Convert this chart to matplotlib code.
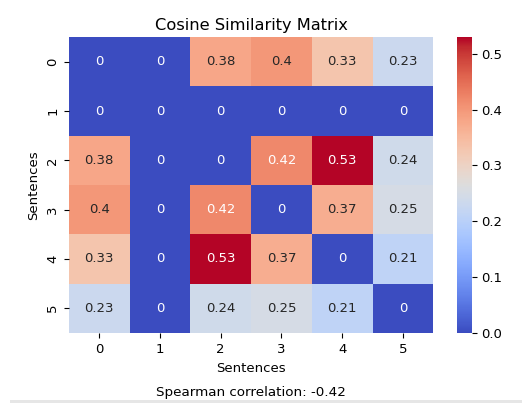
import matplotlib
matplotlib.use("Agg")
import matplotlib.pyplot as plt
import seaborn as sns
import numpy as np
from matplotlib.patches import Rectangle

labels = [0, 1, 2, 3, 4, 5]
row0 = [0, 0, 0.38, 0.40, 0.33, 0.23]
row1 = [0, 0, 0, 0, 0, 0]
row2 = [0.38, 0, 0, 0.42, 0.53, 0.24]
row3 = [0.40, 0, 0.42, 0, 0.37, 0.25]
row4 = [0.33, 0, 0.53, 0.37, 0, 0.21]
row5 = [0.23, 0, 0.24, 0.25, 0.21, 0]
spearman = -0.42

matrix = np.array([row0, row1, row2, row3, row4, row5])

fs = 9.5
plt.rcParams['font.family'] = ['DejaVu Sans']
plt.rcParams['font.size'] = fs

fig = plt.figure(figsize=(5.22, 4.03), dpi=100)
ax = fig.add_axes([0.132, 0.174, 0.698, 0.734])
cax = fig.add_axes([0.875, 0.174, 0.029, 0.734])

sns.heatmap(matrix, annot=True, cmap='coolwarm', ax=ax, cbar_ax=cax,
            xticklabels=labels, yticklabels=labels,
            annot_kws={'fontsize': fs})
ax.set_title('Cosine Similarity Matrix', fontsize=11.7, pad=5)
ax.set_xlabel('Sentences', fontsize=fs, labelpad=4.5)
ax.set_ylabel('Sentences', fontsize=fs, labelpad=4.5)
ax.tick_params(labelsize=fs)
cax.tick_params(labelsize=fs)

fig.text(0.481, 0.027, f'Spearman correlation: {spearman}', ha='center',
         va='center', fontsize=9.7)

fig.patches.append(Rectangle((0.019, 0.0), 0.981, 0.008, transform=fig.transFigure,
                             facecolor='#e6e6e6', edgecolor='none'))

fig.savefig('out.png', dpi=100)
